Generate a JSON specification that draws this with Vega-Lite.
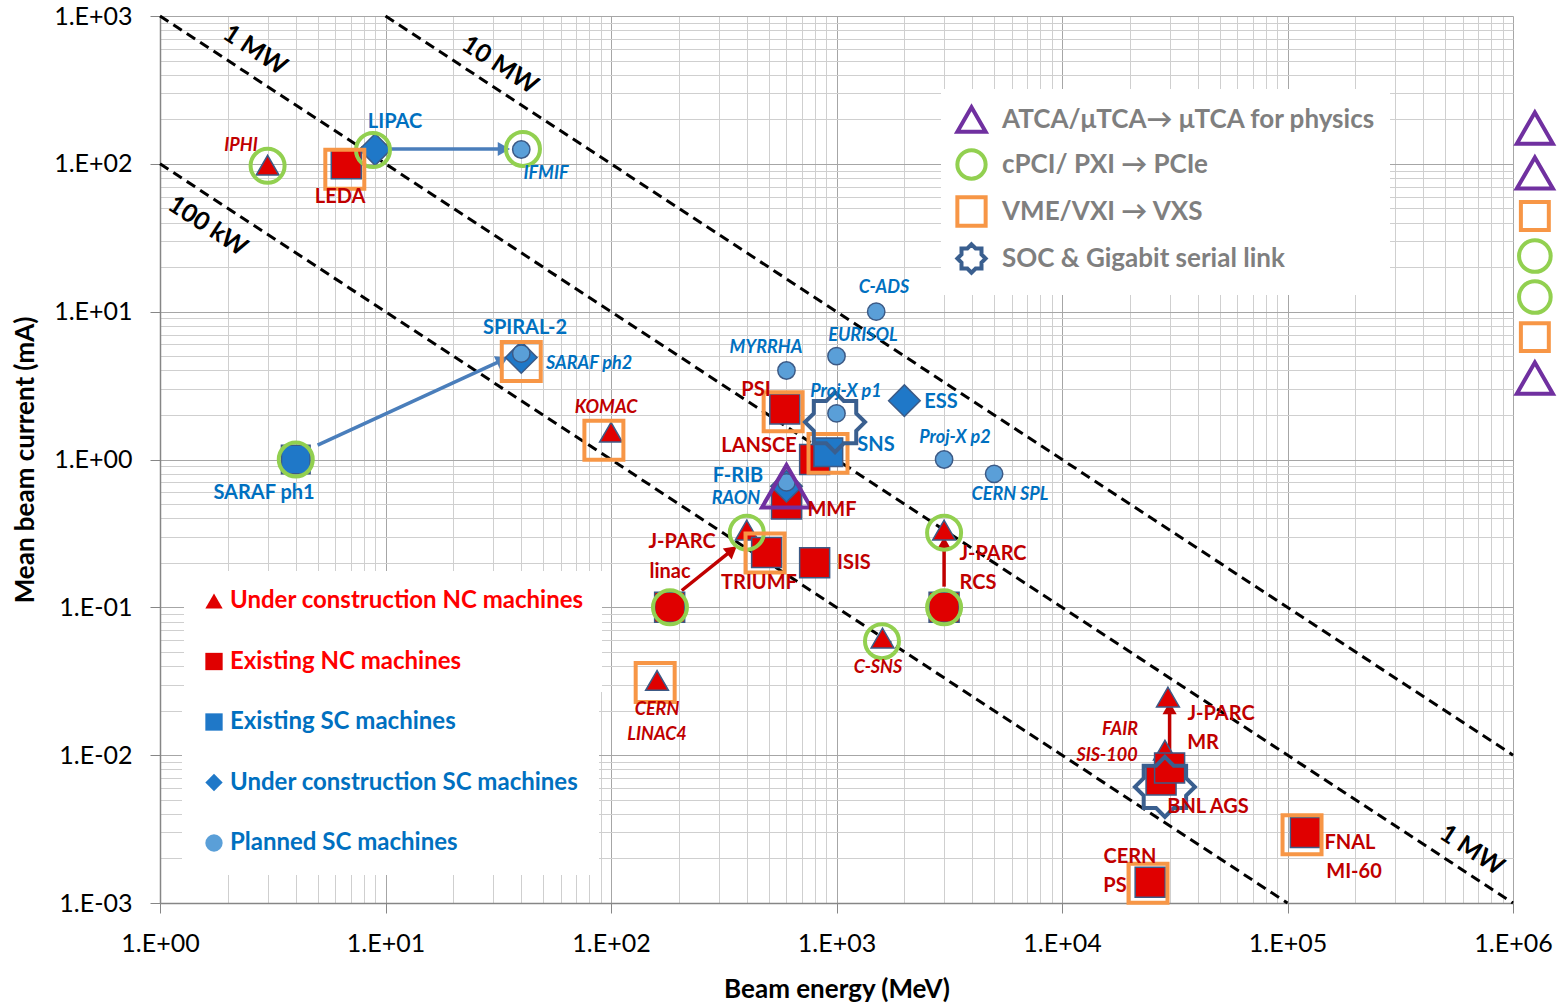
{
  "$schema": "https://vega.github.io/schema/vega-lite/v6.json",
  "width": 1353,
  "height": 887,
  "autosize": {"type": "none"},
  "padding": {"left": 160, "top": 16, "right": 44, "bottom": 105},
  "background": "white",
  "config": {"view": {"stroke": null}, "font": "Lato"},
  "datasets": {
    "power": [
      {"P": "100 kW", "E": 1, "I": 100}, {"P": "100 kW", "E": 100000, "I": 0.001},
      {"P": "1 MW", "E": 1, "I": 1000}, {"P": "1 MW", "E": 1000000, "I": 0.001},
      {"P": "10 MW", "E": 10, "I": 1000}, {"P": "10 MW", "E": 1000000, "I": 0.01}
    ],
    "plabels": [
      {"t": "1 MW", "E": 2.64, "I": 589},
      {"t": "10 MW", "E": 32.2, "I": 466},
      {"t": "100 kW", "E": 1.63, "I": 38},
      {"t": "1 MW", "E": 658000, "I": 0.00228}
    ],
    "arrows": [
      {"kind": "SC", "E0": 9.5, "I0": 126, "E": 33.5, "I": 126},
      {"kind": "SC", "E0": 5, "I0": 1.25, "E": 33, "I": 4.7},
      {"kind": "NC", "E0": 206, "I0": 0.13, "E": 344, "I": 0.244},
      {"kind": "NC", "E0": 3000, "I0": 0.138, "E": 3000, "I": 0.272},
      {"kind": "NC", "E0": 30000, "I0": 0.0097, "E": 30000, "I": 0.0208}
    ],
    "machines": [
      {"name": "IPHI", "E": 3, "I": 98, "type": "Under construction NC machines"},
      {"name": "LEDA", "E": 6.7, "I": 100, "type": "Existing NC machines"},
      {"name": "LIPAC", "E": 9, "I": 125, "type": "Under construction SC machines"},
      {"name": "IFMIF", "E": 40, "I": 125, "type": "Planned SC machines"},
      {"name": "SARAF ph1", "E": 4, "I": 1, "type": "Existing SC machines"},
      {"name": "SPIRAL-2", "E": 40, "I": 4.9, "type": "Under construction SC machines"},
      {"name": "SARAF ph2", "E": 40, "I": 5.2, "type": "Planned SC machines"},
      {"name": "KOMAC", "E": 100, "I": 1.53, "type": "Under construction NC machines"},
      {"name": "MYRRHA", "E": 600, "I": 4, "type": "Planned SC machines"},
      {"name": "EURISOL", "E": 1000, "I": 5, "type": "Planned SC machines"},
      {"name": "C-ADS", "E": 1500, "I": 10, "type": "Planned SC machines"},
      {"name": "PSI", "E": 590, "I": 2.2, "type": "Existing NC machines"},
      {"name": "Proj-X p1", "E": 1000, "I": 2.05, "type": "Planned SC machines"},
      {"name": "ESS", "E": 2000, "I": 2.5, "type": "Under construction SC machines"},
      {"name": "LANSCE", "E": 800, "I": 1.0, "type": "Existing NC machines"},
      {"name": "SNS", "E": 920, "I": 1.12, "type": "Existing SC machines"},
      {"name": "Proj-X p2", "E": 3000, "I": 1.0, "type": "Planned SC machines"},
      {"name": "CERN SPL", "E": 5000, "I": 0.8, "type": "Planned SC machines"},
      {"name": "MMF", "E": 600, "I": 0.5, "type": "Existing NC machines"},
      {"name": "F-RIB", "E": 600, "I": 0.66, "type": "Under construction SC machines"},
      {"name": "RAON", "E": 600, "I": 0.7, "type": "Planned SC machines"},
      {"name": "J-PARC linac", "E": 182, "I": 0.1, "type": "Existing NC machines"},
      {"name": "J-PARC linac upgrade", "E": 400, "I": 0.333, "type": "Under construction NC machines"},
      {"name": "TRIUMF", "E": 490, "I": 0.235, "type": "Existing NC machines"},
      {"name": "ISIS", "E": 800, "I": 0.2, "type": "Existing NC machines"},
      {"name": "J-PARC RCS", "E": 3000, "I": 0.1, "type": "Existing NC machines"},
      {"name": "J-PARC RCS upgrade", "E": 3000, "I": 0.333, "type": "Under construction NC machines"},
      {"name": "C-SNS", "E": 1600, "I": 0.062, "type": "Under construction NC machines"},
      {"name": "CERN LINAC4", "E": 160, "I": 0.032, "type": "Under construction NC machines"},
      {"name": "FAIR SIS-100", "E": 28600, "I": 0.0108, "type": "Under construction NC machines"},
      {"name": "J-PARC MR upgrade", "E": 29500, "I": 0.0247, "type": "Under construction NC machines"},
      {"name": "BNL AGS", "E": 27500, "I": 0.0068, "type": "Existing NC machines"},
      {"name": "J-PARC MR", "E": 30000, "I": 0.0082, "type": "Existing NC machines"},
      {"name": "FNAL MI-60", "E": 120000, "I": 0.003, "type": "Existing NC machines"},
      {"name": "CERN PS", "E": 24600, "I": 0.00138, "type": "Existing NC machines"}
    ],
    "platforms": [
      {"platform": "cPCI/ PXI → PCIe", "E": 3, "I": 97},
      {"platform": "cPCI/ PXI → PCIe", "E": 8.8, "I": 124},
      {"platform": "cPCI/ PXI → PCIe", "E": 40.7, "I": 126},
      {"platform": "cPCI/ PXI → PCIe", "E": 4, "I": 1},
      {"platform": "cPCI/ PXI → PCIe", "E": 400, "I": 0.32},
      {"platform": "cPCI/ PXI → PCIe", "E": 182.6, "I": 0.1},
      {"platform": "cPCI/ PXI → PCIe", "E": 3000, "I": 0.32},
      {"platform": "cPCI/ PXI → PCIe", "E": 3000, "I": 0.1},
      {"platform": "cPCI/ PXI → PCIe", "E": 1591, "I": 0.059},
      {"platform": "VME/VXI → VXS", "E": 6.6, "I": 92},
      {"platform": "VME/VXI → VXS", "E": 40, "I": 4.6},
      {"platform": "VME/VXI → VXS", "E": 93, "I": 1.35},
      {"platform": "VME/VXI → VXS", "E": 580, "I": 2.1},
      {"platform": "VME/VXI → VXS", "E": 917, "I": 1.1},
      {"platform": "VME/VXI → VXS", "E": 482, "I": 0.233},
      {"platform": "VME/VXI → VXS", "E": 157, "I": 0.031},
      {"platform": "VME/VXI → VXS", "E": 116000, "I": 0.0029},
      {"platform": "VME/VXI → VXS", "E": 24070, "I": 0.00136},
      {"platform": "ATCA/μTCA→ μTCA for physics", "E": 600, "I": 0.66},
      {"platform": "SOC  & Gigabit serial link", "E": 985, "I": 1.79},
      {"platform": "SOC  & Gigabit serial link", "E": 28600, "I": 0.0061}
    ],
    "side": [
      {"platform": "ATCA/μTCA→ μTCA for physics", "E": 1250000, "I": 174.7},
      {"platform": "ATCA/μTCA→ μTCA for physics", "E": 1250000, "I": 86.7},
      {"platform": "VME/VXI → VXS", "E": 1250000, "I": 44.36},
      {"platform": "cPCI/ PXI → PCIe", "E": 1250000, "I": 23.78},
      {"platform": "cPCI/ PXI → PCIe", "E": 1250000, "I": 12.56},
      {"platform": "VME/VXI → VXS", "E": 1250000, "I": 6.73},
      {"platform": "ATCA/μTCA→ μTCA for physics", "E": 1250000, "I": 3.554}
    ],
    "labels": [
      {"t": "IPHI", "E": 2.287, "I": 131.9, "kind": "nc_new"},
      {"t": "KOMAC", "E": 95.0, "I": 2.227, "kind": "nc_new"},
      {"t": "C-SNS", "E": 1528, "I": 0.03879, "kind": "nc_new"},
      {"t": "CERN", "E": 160, "I": 0.02016, "kind": "nc_new"},
      {"t": "LINAC4", "E": 160, "I": 0.01366, "kind": "nc_new"},
      {"t": "FAIR", "E": 18080, "I": 0.01476, "kind": "nc_new"},
      {"t": "SIS-100", "E": 15830, "I": 0.009845, "kind": "nc_new"},
      {"t": "LEDA", "E": 6.284, "I": 59.6, "kind": "nc"},
      {"t": "PSI", "E": 439.5, "I": 2.949, "kind": "nc"},
      {"t": "LANSCE", "E": 453.2, "I": 1.232, "kind": "nc"},
      {"t": "MMF", "E": 955, "I": 0.4545, "kind": "nc"},
      {"t": "J-PARC", "E": 206.5, "I": 0.2761, "kind": "nc"},
      {"t": "linac", "E": 182.6, "I": 0.1731, "kind": "nc"},
      {"t": "TRIUMF", "E": 453.2, "I": 0.1458, "kind": "nc"},
      {"t": "ISIS", "E": 1195, "I": 0.1991, "kind": "nc"},
      {"t": "J-PARC", "E": 4943, "I": 0.2291, "kind": "nc"},
      {"t": "RCS", "E": 4241, "I": 0.1458, "kind": "nc"},
      {"t": "J-PARC", "E": 50720, "I": 0.01894, "kind": "nc"},
      {"t": "MR", "E": 42210, "I": 0.01205, "kind": "nc"},
      {"t": "BNL AGS", "E": 44400, "I": 0.004448, "kind": "nc"},
      {"t": "FNAL", "E": 189300, "I": 0.002539, "kind": "nc"},
      {"t": "MI-60", "E": 197200, "I": 0.001616, "kind": "nc"},
      {"t": "CERN", "E": 20030, "I": 0.002041, "kind": "nc"},
      {"t": "PS", "E": 17180, "I": 0.001299, "kind": "nc"},
      {"t": "LIPAC", "E": 11.02, "I": 191.8, "kind": "sc"},
      {"t": "SARAF ph1", "E": 2.892, "I": 0.5926, "kind": "sc"},
      {"t": "SPIRAL-2", "E": 41.55, "I": 7.745, "kind": "sc"},
      {"t": "ESS", "E": 2907, "I": 2.445, "kind": "sc"},
      {"t": "SNS", "E": 1497, "I": 1.251, "kind": "sc"},
      {"t": "F-RIB", "E": 365.8, "I": 0.7721, "kind": "sc"},
      {"t": "IFMIF", "E": 51.5, "I": 85.3, "kind": "sc_new"},
      {"t": "SARAF ph2", "E": 79.9, "I": 4.422, "kind": "sc_new"},
      {"t": "MYRRHA", "E": 486.8, "I": 5.672, "kind": "sc_new"},
      {"t": "EURISOL", "E": 1311, "I": 6.836, "kind": "sc_new"},
      {"t": "C-ADS", "E": 1624, "I": 14.44, "kind": "sc_new"},
      {"t": "Proj-X p1", "E": 1102, "I": 2.858, "kind": "sc_new"},
      {"t": "Proj-X p2", "E": 3354, "I": 1.396, "kind": "sc_new"},
      {"t": "CERN SPL", "E": 5882, "I": 0.5743, "kind": "sc_new"},
      {"t": "RAON", "E": 358.4, "I": 0.5397, "kind": "sc_new"}
    ]
  },
  "layer": [
    {
      "data": {"name": "power"},
      "mark": {"type": "line", "stroke": "black", "strokeWidth": 3, "strokeDash": [10, 6]},
      "encoding": {
        "x": {
          "field": "E", "type": "quantitative", "title": "Beam energy (MeV)",
          "scale": {"type": "log", "domain": [1, 1000000], "nice": false},
          "axis": {
            "values": [1,2,3,4,5,6,7,8,9,10,20,30,40,50,60,70,80,90,100,200,300,400,500,600,700,800,900,1000,2000,3000,4000,5000,6000,7000,8000,9000,10000,20000,30000,40000,50000,60000,70000,80000,90000,100000,200000,300000,400000,500000,600000,700000,800000,900000,1000000],
            "labelExpr": "abs(log(datum.value)/LN10 - round(log(datum.value)/LN10)) < 0.001 ? '1.E' + (round(log(datum.value)/LN10) < 0 ? '-' : '+') + '0' + abs(round(log(datum.value)/LN10)) : ''",
            "labelOverlap": false, "labelFlush": false, "labelBound": false,
            "grid": true,
            "gridColor": {"condition": {"test": "abs(log(datum.value)/LN10 - round(log(datum.value)/LN10)) < 0.001", "value": "#a6a6a6"}, "value": "#cfcfcf"},
            "gridWidth": 1,
            "tickOpacity": {"condition": {"test": "abs(log(datum.value)/LN10 - round(log(datum.value)/LN10)) < 0.001", "value": 1}, "value": 0},
            "tickColor": "#868686", "tickSize": 10, "tickWidth": 1,
            "domainColor": "#868686", "domainWidth": 1.5,
            "labelFont": "Lato", "labelFontSize": 25, "labelColor": "#000000", "labelPadding": 18,
            "titleFont": "Lato", "titleFontSize": 26, "titleFontWeight": "bold", "titleColor": "#000000", "titlePadding": 20
          }
        },
        "y": {
          "field": "I", "type": "quantitative", "title": "Mean beam current (mA)",
          "scale": {"type": "log", "domain": [0.001, 1000], "nice": false},
          "axis": {
            "values": [0.001,0.002,0.003,0.004,0.005,0.006,0.007,0.008,0.009,0.01,0.02,0.03,0.04,0.05,0.06,0.07,0.08,0.09,0.1,0.2,0.3,0.4,0.5,0.6,0.7,0.8,0.9,1,2,3,4,5,6,7,8,9,10,20,30,40,50,60,70,80,90,100,200,300,400,500,600,700,800,900,1000],
            "labelExpr": "abs(log(datum.value)/LN10 - round(log(datum.value)/LN10)) < 0.001 ? '1.E' + (round(log(datum.value)/LN10) < 0 ? '-' : '+') + '0' + abs(round(log(datum.value)/LN10)) : ''",
            "labelOverlap": false, "labelFlush": false, "labelBound": false,
            "grid": true,
            "gridColor": {"condition": {"test": "abs(log(datum.value)/LN10 - round(log(datum.value)/LN10)) < 0.001", "value": "#a6a6a6"}, "value": "#cfcfcf"},
            "gridWidth": 1,
            "tickOpacity": {"condition": {"test": "abs(log(datum.value)/LN10 - round(log(datum.value)/LN10)) < 0.001", "value": 1}, "value": 0},
            "tickColor": "#868686", "tickSize": 10, "tickWidth": 1,
            "domainColor": "#868686", "domainWidth": 1.5,
            "labelFont": "Lato", "labelFontSize": 25, "labelColor": "#000000", "labelPadding": 18,
            "titleFont": "Lato", "titleFontSize": 26, "titleFontWeight": "bold", "titleColor": "#000000", "titlePadding": 15
          }
        },
        "detail": {"field": "P"}
      }
    },
    {
      "data": {"name": "plabels"},
      "mark": {"type": "text", "angle": 33, "font": "Lato", "fontSize": 25, "fontWeight": "bold", "color": "black", "align": "center", "baseline": "middle"},
      "encoding": {
        "x": {"field": "E", "type": "quantitative", "title": "Beam energy (MeV)", "scale": {"type": "log", "domain": [1, 1000000], "nice": false}},
        "y": {"field": "I", "type": "quantitative", "title": "Mean beam current (mA)", "scale": {"type": "log", "domain": [0.001, 1000], "nice": false}},
        "text": {"field": "t"}
      }
    },
    {
      "data": {"name": "arrows"},
      "mark": {"type": "rule", "strokeWidth": 3.5},
      "encoding": {
        "x": {"field": "E0", "type": "quantitative", "title": "Beam energy (MeV)", "scale": {"type": "log", "domain": [1, 1000000], "nice": false}},
        "x2": {"field": "E"},
        "y": {"field": "I0", "type": "quantitative", "title": "Mean beam current (mA)", "scale": {"type": "log", "domain": [0.001, 1000], "nice": false}},
        "y2": {"field": "I"},
        "color": {"field": "kind", "type": "nominal", "scale": {"domain": ["SC", "NC"], "range": ["#4a7ebb", "#c00000"]}, "legend": null}
      }
    },
    {
      "data": {"name": "arrows"},
      "mark": {"type": "point", "shape": "triangle-up", "filled": true, "size": 200, "opacity": 1,
        "angle": {"expr": "atan2(scale('x', datum.E) - scale('x', datum.E0), scale('y', datum.I0) - scale('y', datum.I)) * 180 / PI"}},
      "encoding": {
        "x": {"field": "E", "type": "quantitative", "title": "Beam energy (MeV)", "scale": {"type": "log", "domain": [1, 1000000], "nice": false}},
        "y": {"field": "I", "type": "quantitative", "title": "Mean beam current (mA)", "scale": {"type": "log", "domain": [0.001, 1000], "nice": false}},
        "color": {"field": "kind", "type": "nominal", "scale": {"domain": ["SC", "NC"], "range": ["#4a7ebb", "#c00000"]}, "legend": null}
      }
    },
    {
      "data": {"name": "machines"},
      "transform": [{"filter": "indexof(datum.type, 'NC') >= 0"}],
      "mark": {"type": "point", "filled": true, "stroke": "#3c5a86", "strokeWidth": 1.5, "opacity": 1,
        "size": {"expr": "datum.type === 'Under construction NC machines' ? 520 : 900"}},
      "encoding": {
        "x": {"field": "E", "type": "quantitative", "title": "Beam energy (MeV)", "scale": {"type": "log", "domain": [1, 1000000], "nice": false}},
        "y": {"field": "I", "type": "quantitative", "title": "Mean beam current (mA)", "scale": {"type": "log", "domain": [0.001, 1000], "nice": false}},
        "shape": {
          "field": "type", "type": "nominal",
          "scale": {"domain": ["Under construction NC machines", "Existing NC machines"], "range": ["triangle-up", "square"]},
          "legend": {
            "orient": "none", "legendX": 24, "legendY": 555, "title": null,
            "fillColor": "white", "padding": 18, "rowPadding": 36.5,
            "symbolSize": 300, "symbolStrokeColor": "#3c5a86", "symbolStrokeWidth": 1.5,
            "labelFont": "Lato", "labelFontSize": 24, "labelFontWeight": "bold", "labelColor": "#ff0000", "labelOffset": 4, "labelLimit": 600
          }
        },
        "fill": {
          "field": "type", "type": "nominal",
          "scale": {"domain": ["Under construction NC machines", "Existing NC machines"], "range": ["#e00000", "#e00000"]},
          "legend": {
            "orient": "none", "legendX": 24, "legendY": 555, "title": null,
            "fillColor": "white", "padding": 18, "rowPadding": 36.5,
            "symbolSize": 300, "symbolStrokeColor": "#3c5a86", "symbolStrokeWidth": 1.5,
            "labelFont": "Lato", "labelFontSize": 24, "labelFontWeight": "bold", "labelColor": "#ff0000", "labelOffset": 4, "labelLimit": 600
          }
        }
      }
    },
    {
      "data": {"name": "machines"},
      "transform": [{"filter": "indexof(datum.type, 'SC') >= 0"}],
      "mark": {"type": "point", "filled": true, "stroke": "#3c5a86", "strokeWidth": 1.5, "opacity": 1,
        "size": {"expr": "datum.type === 'Planned SC machines' ? 300 : datum.type === 'Existing SC machines' ? 820 : 1000"}},
      "encoding": {
        "x": {"field": "E", "type": "quantitative", "title": "Beam energy (MeV)", "scale": {"type": "log", "domain": [1, 1000000], "nice": false}},
        "y": {"field": "I", "type": "quantitative", "title": "Mean beam current (mA)", "scale": {"type": "log", "domain": [0.001, 1000], "nice": false}},
        "shape": {
          "field": "type", "type": "nominal",
          "scale": {"domain": ["Existing SC machines", "Under construction SC machines", "Planned SC machines"], "range": ["square", "diamond", "circle"]},
          "legend": {
            "orient": "none", "legendX": 22, "legendY": 674, "title": null,
            "fillColor": "white", "padding": 20, "rowPadding": 36.5,
            "symbolSize": 300, "symbolStrokeColor": "#3c5a86", "symbolStrokeWidth": 1.5,
            "labelFont": "Lato", "labelFontSize": 24, "labelFontWeight": "bold", "labelColor": "#0070c0", "labelOffset": 4, "labelLimit": 600
          }
        },
        "fill": {
          "field": "type", "type": "nominal",
          "scale": {"domain": ["Existing SC machines", "Under construction SC machines", "Planned SC machines"], "range": ["#1f78c8", "#1f78c8", "#5a9fd8"]},
          "legend": {
            "orient": "none", "legendX": 22, "legendY": 674, "title": null,
            "fillColor": "white", "padding": 20, "rowPadding": 36.5,
            "symbolSize": 300, "symbolStrokeColor": "#3c5a86", "symbolStrokeWidth": 1.5,
            "labelFont": "Lato", "labelFontSize": 24, "labelFontWeight": "bold", "labelColor": "#0070c0", "labelOffset": 4, "labelLimit": 600
          }
        }
      }
    },
    {
      "data": {"name": "platforms"},
      "mark": {"type": "point", "filled": false, "strokeWidth": 4, "opacity": 1,
        "size": {"expr": "datum.platform === 'cPCI/ PXI → PCIe' ? 1156 : datum.platform === 'VME/VXI → VXS' ? 1520 : datum.platform === 'ATCA/μTCA→ μTCA for physics' ? 2400 : 3600"}},
      "encoding": {
        "x": {"field": "E", "type": "quantitative", "title": "Beam energy (MeV)", "scale": {"type": "log", "domain": [1, 1000000], "nice": false}},
        "y": {"field": "I", "type": "quantitative", "title": "Mean beam current (mA)", "scale": {"type": "log", "domain": [0.001, 1000], "nice": false}},
        "shape": {
          "field": "platform", "type": "nominal",
          "scale": {"domain": ["ATCA/μTCA→ μTCA for physics", "cPCI/ PXI → PCIe", "VME/VXI → VXS", "SOC  & Gigabit serial link"],
                    "range": ["triangle-up", "circle", "square", "M0,-1L0.293,-0.707L0.707,-0.707L0.707,-0.293L1,0L0.707,0.293L0.707,0.707L0.293,0.707L0,1L-0.293,0.707L-0.707,0.707L-0.707,0.293L-1,0L-0.707,-0.293L-0.707,-0.707L-0.293,-0.707Z"]},
          "legend": {
            "orient": "none", "legendX": 781, "legendY": 73, "title": null,
            "fillColor": "white", "padding": 14, "rowPadding": 2,
            "symbolSize": 800, "symbolStrokeWidth": 4,
            "labelFont": "Lato", "labelFontSize": 26, "labelFontWeight": "bold", "labelColor": "#7f7f7f", "labelOffset": 14, "labelLimit": 600
          }
        },
        "stroke": {
          "field": "platform", "type": "nominal",
          "scale": {"domain": ["ATCA/μTCA→ μTCA for physics", "cPCI/ PXI → PCIe", "VME/VXI → VXS", "SOC  & Gigabit serial link"],
                    "range": ["#7030a0", "#92d050", "#f79646", "#3a5f8f"]},
          "legend": {
            "orient": "none", "legendX": 781, "legendY": 73, "title": null,
            "fillColor": "white", "padding": 14, "rowPadding": 2,
            "symbolSize": 800, "symbolStrokeWidth": 4,
            "labelFont": "Lato", "labelFontSize": 26, "labelFontWeight": "bold", "labelColor": "#7f7f7f", "labelOffset": 14, "labelLimit": 600
          }
        }
      }
    },
    {
      "data": {"name": "side"},
      "transform": [{"filter": "datum.platform === 'ATCA/μTCA→ μTCA for physics'"}],
      "mark": {"type": "point", "filled": false, "shape": "triangle-up", "stroke": "#7030a0", "strokeWidth": 4, "size": 1300, "opacity": 1},
      "encoding": {
        "x": {"field": "E", "type": "quantitative", "title": "Beam energy (MeV)", "scale": {"type": "log", "domain": [1, 1000000], "nice": false}},
        "y": {"field": "I", "type": "quantitative", "title": "Mean beam current (mA)", "scale": {"type": "log", "domain": [0.001, 1000], "nice": false}}
      }
    },
    {
      "data": {"name": "side"},
      "transform": [{"filter": "datum.platform === 'VME/VXI → VXS'"}],
      "mark": {"type": "point", "filled": false, "shape": "square", "stroke": "#f79646", "strokeWidth": 4, "size": 780, "opacity": 1},
      "encoding": {
        "x": {"field": "E", "type": "quantitative", "title": "Beam energy (MeV)", "scale": {"type": "log", "domain": [1, 1000000], "nice": false}},
        "y": {"field": "I", "type": "quantitative", "title": "Mean beam current (mA)", "scale": {"type": "log", "domain": [0.001, 1000], "nice": false}}
      }
    },
    {
      "data": {"name": "side"},
      "transform": [{"filter": "datum.platform === 'cPCI/ PXI → PCIe'"}],
      "mark": {"type": "point", "filled": false, "shape": "circle", "stroke": "#92d050", "strokeWidth": 4, "size": 1000, "opacity": 1},
      "encoding": {
        "x": {"field": "E", "type": "quantitative", "title": "Beam energy (MeV)", "scale": {"type": "log", "domain": [1, 1000000], "nice": false}},
        "y": {"field": "I", "type": "quantitative", "title": "Mean beam current (mA)", "scale": {"type": "log", "domain": [0.001, 1000], "nice": false}}
      }
    },
    {
      "data": {"name": "labels"},
      "transform": [{"filter": "datum.kind === 'nc'"}],
      "mark": {"type": "text", "font": "Lato", "fontSize": 20, "fontWeight": "bold", "color": "#c00000", "align": "center", "baseline": "middle"},
      "encoding": {
        "x": {"field": "E", "type": "quantitative", "title": "Beam energy (MeV)", "scale": {"type": "log", "domain": [1, 1000000], "nice": false}},
        "y": {"field": "I", "type": "quantitative", "title": "Mean beam current (mA)", "scale": {"type": "log", "domain": [0.001, 1000], "nice": false}},
        "text": {"field": "t"}
      }
    },
    {
      "data": {"name": "labels"},
      "transform": [{"filter": "datum.kind === 'nc_new'"}],
      "mark": {"type": "text", "font": "Lato", "fontSize": 18, "fontWeight": "bold", "fontStyle": "italic", "color": "#c00000", "align": "center", "baseline": "middle"},
      "encoding": {
        "x": {"field": "E", "type": "quantitative", "title": "Beam energy (MeV)", "scale": {"type": "log", "domain": [1, 1000000], "nice": false}},
        "y": {"field": "I", "type": "quantitative", "title": "Mean beam current (mA)", "scale": {"type": "log", "domain": [0.001, 1000], "nice": false}},
        "text": {"field": "t"}
      }
    },
    {
      "data": {"name": "labels"},
      "transform": [{"filter": "datum.kind === 'sc'"}],
      "mark": {"type": "text", "font": "Lato", "fontSize": 20, "fontWeight": "bold", "color": "#0070c0", "align": "center", "baseline": "middle"},
      "encoding": {
        "x": {"field": "E", "type": "quantitative", "title": "Beam energy (MeV)", "scale": {"type": "log", "domain": [1, 1000000], "nice": false}},
        "y": {"field": "I", "type": "quantitative", "title": "Mean beam current (mA)", "scale": {"type": "log", "domain": [0.001, 1000], "nice": false}},
        "text": {"field": "t"}
      }
    },
    {
      "data": {"name": "labels"},
      "transform": [{"filter": "datum.kind === 'sc_new'"}],
      "mark": {"type": "text", "font": "Lato", "fontSize": 18, "fontWeight": "bold", "fontStyle": "italic", "color": "#0070c0", "align": "center", "baseline": "middle"},
      "encoding": {
        "x": {"field": "E", "type": "quantitative", "title": "Beam energy (MeV)", "scale": {"type": "log", "domain": [1, 1000000], "nice": false}},
        "y": {"field": "I", "type": "quantitative", "title": "Mean beam current (mA)", "scale": {"type": "log", "domain": [0.001, 1000], "nice": false}},
        "text": {"field": "t"}
      }
    }
  ],
  "resolve": {"scale": {"shape": "independent", "fill": "independent", "stroke": "independent"}}
}
